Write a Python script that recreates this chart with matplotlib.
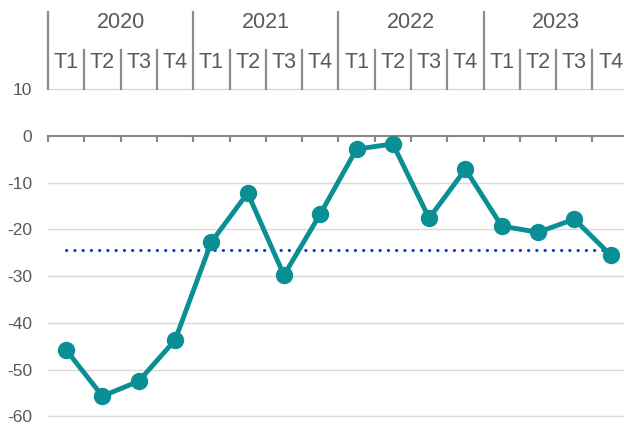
import numpy as np
import matplotlib
matplotlib.use("Agg")
import matplotlib.pyplot as plt
import matplotlib.transforms as mtransforms

years = ["2020", "2021", "2022", "2023"]
quarters = ["T1", "T2", "T3", "T4"]
values = [-45.8, -55.7, -52.5, -43.7,
          -22.7, -12.2, -29.8, -16.7,
          -2.8, -1.7, -17.6, -7.1,
          -19.3, -20.6, -17.8, -25.5]
average = -24.4
y_ticks = [10, 0, -10, -20, -30, -40, -50, -60]

W, H = 624, 424


def main():
    plt.rcParams['font.family'] = ['Liberation Sans', 'DejaVu Sans']
    fig = plt.figure(figsize=(W / 100, H / 100), dpi=100)
    # axes placed in pixels: left 48, bottom 3, width ~581, height ~334
    ax = fig.add_axes([48 / W, 3.1 / H, 580.8 / W, 333.9 / H])
    draw_chart(ax)
    draw_header(fig, ax)
    fig.savefig("out.png", dpi=100)


def draw_chart(ax):
    n = len(values)
    x = np.arange(n)
    ax.set_xlim(-0.5, n - 0.5)
    ax.set_ylim(-61, 10.5)

    for t in y_ticks:
        if t != 0:
            ax.axhline(t, color="#D9D9D9", lw=1.0, zorder=1, clip_on=False)

    # zero axis with boundary ticks
    for s in ["top", "right", "left"]:
        ax.spines[s].set_visible(False)
    ax.spines["bottom"].set_position(("data", 0))
    ax.spines["bottom"].set_color("#888888")
    ax.spines["bottom"].set_linewidth(1.5)
    ax.set_xticks([])
    ax.set_xticks(np.arange(-0.5, n), minor=True)
    ax.tick_params(axis="x", which="minor", direction="out", length=4.3,
                   width=1.5, color="#888888", labelbottom=False)

    ax.set_yticks(y_ticks)
    ax.set_yticklabels([str(t) for t in y_ticks])
    ax.tick_params(axis="y", length=0, pad=11.5, labelsize=12.5,
                   labelcolor="#595959")

    ax.hlines(average, 0, n - 1, color="#0B3FD0", lw=2.2,
              linestyles=(0, (0.1, 2.6)), capstyle="round", zorder=2)
    ax.plot(x, values, color="#0A8F94", lw=3.5, marker="o", markersize=11.5,
            zorder=3, clip_on=False)


def draw_header(fig, ax):
    n = len(values)
    trans = mtransforms.blended_transform_factory(ax.transData, fig.transFigure)
    top = 1 - 89 / H
    year_top = 1 - 12 / H
    q_top = 1 - 50 / H
    grey = "#8C8C8C"
    for i in range(n + 1):
        xb = i - 0.5
        y1 = year_top if i % 4 == 0 else q_top
        ax.plot([xb, xb], [top, y1], color=grey, lw=1.6, transform=trans,
                clip_on=False)
    for j, yr in enumerate(years):
        ax.text(j * 4 + 1.5, 1 - 23 / H, yr, transform=trans, ha="center",
                va="center", fontsize=15.5, color="#595959")
    for i in range(n):
        ax.text(i, 1 - 62 / H, quarters[i % 4], transform=trans, ha="center",
                va="center", fontsize=15.5, color="#595959")


if __name__ == "__main__":
    main()
